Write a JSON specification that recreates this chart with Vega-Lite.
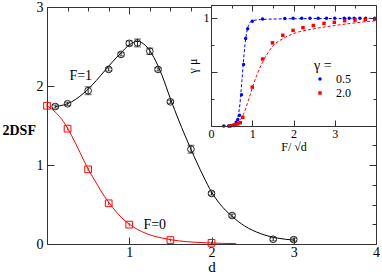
{
  "$schema": "https://vega.github.io/schema/vega-lite/v6.json",
  "autosize": {"type": "pad"},
  "padding": {"left": 2, "top": 0, "right": 0, "bottom": 0},
  "background": "white",
  "config": {
    "font": "Liberation Serif",
    "view": {"stroke": null},
    "axis": {"grid": false, "labelFont": "Liberation Serif", "titleFont": "Liberation Serif", "labelColor": "#000", "titleColor": "#000", "domainColor": "#333", "tickColor": "#333", "titleFontWeight": "normal", "labelOverlap": false, "labelFlush": false}
  },
  "datasets": {
    "fit1": [
      {"d": 0.1, "v": 1.74}, {"d": 0.2, "v": 1.76}, {"d": 0.3, "v": 1.8}, {"d": 0.4, "v": 1.87}, {"d": 0.5, "v": 1.96},
      {"d": 0.6, "v": 2.07}, {"d": 0.7, "v": 2.19}, {"d": 0.8, "v": 2.31}, {"d": 0.9, "v": 2.42}, {"d": 1.0, "v": 2.52},
      {"d": 1.1, "v": 2.565}, {"d": 1.2, "v": 2.51}, {"d": 1.3, "v": 2.36}, {"d": 1.4, "v": 2.13}, {"d": 1.5, "v": 1.84},
      {"d": 1.6, "v": 1.57}, {"d": 1.75, "v": 1.2}, {"d": 1.9, "v": 0.86}, {"d": 2.0, "v": 0.66}, {"d": 2.1, "v": 0.51},
      {"d": 2.25, "v": 0.35}, {"d": 2.4, "v": 0.23}, {"d": 2.6, "v": 0.13}, {"d": 2.8, "v": 0.075}, {"d": 3.0, "v": 0.05}
    ],
    "fit0": [
      {"d": 0, "v": 1.75}, {"d": 0.1, "v": 1.67}, {"d": 0.2, "v": 1.55}, {"d": 0.3, "v": 1.37}, {"d": 0.4, "v": 1.16},
      {"d": 0.5, "v": 0.95}, {"d": 0.6, "v": 0.77}, {"d": 0.7, "v": 0.6}, {"d": 0.8, "v": 0.46}, {"d": 0.9, "v": 0.34},
      {"d": 1.0, "v": 0.25}, {"d": 1.1, "v": 0.185}, {"d": 1.2, "v": 0.135}, {"d": 1.4, "v": 0.075}, {"d": 1.6, "v": 0.04},
      {"d": 1.8, "v": 0.022}, {"d": 2.0, "v": 0.012}, {"d": 2.3, "v": 0.005}
    ],
    "pts1": [
      {"d": 0.1, "v": 1.74, "lo": 1.72, "hi": 1.76},
      {"d": 0.25, "v": 1.775, "lo": 1.755, "hi": 1.795},
      {"d": 0.5, "v": 1.94, "lo": 1.89, "hi": 1.99},
      {"d": 0.75, "v": 2.21, "lo": 2.19, "hi": 2.23},
      {"d": 0.9, "v": 2.4, "lo": 2.38, "hi": 2.42},
      {"d": 1.0, "v": 2.54, "lo": 2.51, "hi": 2.57},
      {"d": 1.1, "v": 2.545, "lo": 2.495, "hi": 2.595},
      {"d": 1.25, "v": 2.44, "lo": 2.4, "hi": 2.48},
      {"d": 1.35, "v": 2.21, "lo": 2.19, "hi": 2.23},
      {"d": 1.5, "v": 1.8, "lo": 1.78, "hi": 1.82},
      {"d": 1.75, "v": 1.2, "lo": 1.15, "hi": 1.25},
      {"d": 2.0, "v": 0.64, "lo": 0.62, "hi": 0.66},
      {"d": 2.25, "v": 0.36, "lo": 0.34, "hi": 0.38},
      {"d": 2.75, "v": 0.06, "lo": 0.04, "hi": 0.08},
      {"d": 3.0, "v": 0.055, "lo": 0.035, "hi": 0.075}
    ],
    "pts0": [
      {"d": 0, "v": 1.75, "lo": 1.73, "hi": 1.77},
      {"d": 0.25, "v": 1.46, "lo": 1.44, "hi": 1.48},
      {"d": 0.5, "v": 0.945, "lo": 0.925, "hi": 0.965},
      {"d": 0.75, "v": 0.515, "lo": 0.495, "hi": 0.535},
      {"d": 1.0, "v": 0.245, "lo": 0.225, "hi": 0.265},
      {"d": 1.5, "v": 0.05, "lo": 0.03, "hi": 0.07},
      {"d": 2.0, "v": 0.015, "lo": 0.0, "hi": 0.03}
    ],
    "labels": [
      {"d": 0.41, "v": 2.13, "t": "F=1"},
      {"d": 1.31, "v": 0.24, "t": "F=0"}
    ],
    "fitB": [
      {"F": 0.28, "v": 0}, {"F": 0.45, "v": 0.003}, {"F": 0.55, "v": 0.015}, {"F": 0.6, "v": 0.035}, {"F": 0.65, "v": 0.08},
      {"F": 0.7, "v": 0.2}, {"F": 0.75, "v": 0.42}, {"F": 0.8, "v": 0.66}, {"F": 0.85, "v": 0.83}, {"F": 0.9, "v": 0.92},
      {"F": 0.95, "v": 0.96}, {"F": 1.0, "v": 0.975}, {"F": 1.2, "v": 0.985}, {"F": 1.5, "v": 0.99}, {"F": 2.0, "v": 0.993},
      {"F": 3.0, "v": 0.995}, {"F": 4.0, "v": 0.997}
    ],
    "fitR": [
      {"F": 0.4, "v": 0}, {"F": 0.5, "v": 0.005}, {"F": 0.6, "v": 0.02}, {"F": 0.7, "v": 0.05}, {"F": 0.8, "v": 0.12},
      {"F": 0.9, "v": 0.23}, {"F": 1.0, "v": 0.35}, {"F": 1.1, "v": 0.46}, {"F": 1.25, "v": 0.59}, {"F": 1.5, "v": 0.74},
      {"F": 1.75, "v": 0.81}, {"F": 2.0, "v": 0.855}, {"F": 2.5, "v": 0.9}, {"F": 3.0, "v": 0.93}, {"F": 3.5, "v": 0.955},
      {"F": 4.0, "v": 0.975}
    ],
    "ins": [
      {"F": 0.31, "v": 0, "g": "0.5"}, {"F": 0.43, "v": 0, "g": "0.5"}, {"F": 0.48, "v": 0.002, "g": "0.5"},
      {"F": 0.55, "v": 0.01, "g": "0.5"}, {"F": 0.61, "v": 0.035, "g": "0.5"}, {"F": 0.65, "v": 0.06, "g": "0.5"},
      {"F": 0.69, "v": 0.1, "g": "0.5"}, {"F": 0.74, "v": 0.29, "g": "0.5"}, {"F": 0.79, "v": 0.57, "g": "0.5"},
      {"F": 0.84, "v": 0.81, "g": "0.5"}, {"F": 0.89, "v": 0.9, "g": "0.5"}, {"F": 1.0, "v": 0.97, "g": "0.5"},
      {"F": 1.25, "v": 0.99, "g": "0.5"}, {"F": 1.79, "v": 0.995, "g": "0.5"}, {"F": 1.99, "v": 0.997, "g": "0.5"},
      {"F": 2.2, "v": 0.997, "g": "0.5"}, {"F": 2.4, "v": 0.998, "g": "0.5"}, {"F": 2.6, "v": 0.998, "g": "0.5"},
      {"F": 2.8, "v": 0.998, "g": "0.5"}, {"F": 3.0, "v": 0.998, "g": "0.5"}, {"F": 3.23, "v": 0.998, "g": "0.5"},
      {"F": 3.35, "v": 0.998, "g": "0.5"}, {"F": 3.47, "v": 0.998, "g": "0.5"}, {"F": 3.61, "v": 0.998, "g": "0.5"},
      {"F": 3.75, "v": 0.998, "g": "0.5"}, {"F": 3.97, "v": 0.998, "g": "0.5"},
      {"F": 0.45, "v": 0, "g": "2.0"}, {"F": 0.54, "v": 0.005, "g": "2.0"}, {"F": 0.6, "v": 0.01, "g": "2.0"},
      {"F": 0.65, "v": 0.02, "g": "2.0"}, {"F": 0.71, "v": 0.03, "g": "2.0"}, {"F": 0.77, "v": 0.08, "g": "2.0"},
      {"F": 1.0, "v": 0.36, "g": "2.0"}, {"F": 1.25, "v": 0.62, "g": "2.0"}, {"F": 1.49, "v": 0.77, "g": "2.0"},
      {"F": 1.74, "v": 0.84, "g": "2.0"}, {"F": 1.99, "v": 0.885, "g": "2.0"}, {"F": 2.23, "v": 0.91, "g": "2.0"},
      {"F": 2.48, "v": 0.93, "g": "2.0"}, {"F": 2.74, "v": 0.95, "g": "2.0"}, {"F": 2.99, "v": 0.96, "g": "2.0"},
      {"F": 3.24, "v": 0.975, "g": "2.0"}, {"F": 3.49, "v": 0.98, "g": "2.0"}, {"F": 3.74, "v": 0.985, "g": "2.0"},
      {"F": 3.97, "v": 0.99, "g": "2.0"}
    ]
  },
  "width": 329,
  "height": 237,
  "resolve": {"scale": {"x": "independent", "y": "independent"}, "axis": {"x": "independent", "y": "independent"}},
  "layer": [
    {
      "resolve": {"axis": {"x": "independent", "y": "independent"}},
      "layer": [
        {
          "data": {"name": "fit1"},
          "mark": {"type": "line", "color": "#000", "strokeWidth": 1, "interpolate": "monotone"},
          "encoding": {
            "x": {"field": "d", "type": "quantitative", "scale": {"domain": [0, 4], "nice": false},
              "axis": {"orient": "bottom", "values": [0,0.25,0.5,0.75,1,1.25,1.5,1.75,2,2.25,2.5,2.75,3,3.25,3.5,3.75,4],
                "format": "d",
                "labelExpr": "datum.value % 1 === 0 && datum.value > 0 ? datum.label : ''",
                "tickSize": {"condition": {"test": "datum.value % 1 === 0", "value": -7}, "value": -4},
                "labelPadding": 8, "labelFontSize": 14, "title": "d", "titleFontSize": 15, "titlePadding": 0}},
            "y": {"field": "v", "type": "quantitative", "scale": {"domain": [0, 3], "nice": false},
              "axis": {"orient": "left", "values": [0,0.25,0.5,0.75,1,1.25,1.5,1.75,2,2.25,2.5,2.75,3],
                "format": "d",
                "labelExpr": "datum.value % 1 === 0 ? datum.label : ''",
                "tickSize": {"condition": {"test": "datum.value % 1 === 0", "value": -7}, "value": -4},
                "labelPadding": 11, "labelFontSize": 14,
                "title": "2DSF", "titleAngle": 0, "titleFontWeight": "bold", "titleFontSize": 14,
                "titleAlign": "left", "titleBaseline": "middle", "titleX": -45, "titleY": 123}}
          }
        },
        {
          "data": {"name": "fit0"},
          "mark": {"type": "line", "color": "#ff0000", "strokeWidth": 1, "interpolate": "monotone"},
          "encoding": {
            "x": {"field": "d", "type": "quantitative",
              "axis": {"orient": "top", "values": [0,0.25,0.5,0.75,1,1.25,1.5,1.75,2,2.25,2.5,2.75,3,3.25,3.5,3.75,4],
                "labels": false, "title": null,
                "tickSize": {"condition": {"test": "datum.value % 1 === 0", "value": -7}, "value": -4}}},
            "y": {"field": "v", "type": "quantitative",
              "axis": {"orient": "right", "values": [0,0.25,0.5,0.75,1,1.25,1.5,1.75,2,2.25,2.5,2.75,3],
                "labels": false, "title": null,
                "tickSize": {"condition": {"test": "datum.value % 1 === 0", "value": -7}, "value": -4}}}
          }
        },
        {
          "data": {"name": "pts1"},
          "mark": {"type": "rule", "color": "#222", "strokeWidth": 1},
          "encoding": {
            "x": {"field": "d", "type": "quantitative", "axis": null},
            "y": {"field": "lo", "type": "quantitative", "axis": null},
            "y2": {"field": "hi"}
          }
        },
        {
          "data": {"name": "pts1"},
          "mark": {"type": "tick", "orient": "horizontal", "color": "#222", "size": 7, "thickness": 1},
          "encoding": {
            "x": {"field": "d", "type": "quantitative", "axis": null},
            "y": {"field": "lo", "type": "quantitative", "axis": null}
          }
        },
        {
          "data": {"name": "pts1"},
          "mark": {"type": "tick", "orient": "horizontal", "color": "#222", "size": 7, "thickness": 1},
          "encoding": {
            "x": {"field": "d", "type": "quantitative", "axis": null},
            "y": {"field": "hi", "type": "quantitative", "axis": null}
          }
        },
        {
          "data": {"name": "pts1"},
          "mark": {"type": "point", "shape": "circle", "filled": false, "color": "#222", "size": 45, "strokeWidth": 1, "opacity": 1},
          "encoding": {
            "x": {"field": "d", "type": "quantitative", "axis": null},
            "y": {"field": "v", "type": "quantitative", "axis": null}
          }
        },
        {
          "data": {"name": "pts0"},
          "mark": {"type": "rule", "color": "#ff0000", "strokeWidth": 1},
          "encoding": {
            "x": {"field": "d", "type": "quantitative", "axis": null},
            "y": {"field": "lo", "type": "quantitative", "axis": null},
            "y2": {"field": "hi"}
          }
        },
        {
          "data": {"name": "pts0"},
          "mark": {"type": "point", "shape": "square", "filled": false, "color": "#ff0000", "size": 45, "strokeWidth": 1, "opacity": 1},
          "encoding": {
            "x": {"field": "d", "type": "quantitative", "axis": null},
            "y": {"field": "v", "type": "quantitative", "axis": null}
          }
        },
        {
          "data": {"name": "labels"},
          "mark": {"type": "text", "font": "Liberation Serif", "fontSize": 14, "color": "#000"},
          "encoding": {
            "x": {"field": "d", "type": "quantitative", "axis": null},
            "y": {"field": "v", "type": "quantitative", "axis": null},
            "text": {"field": "t"}
          }
        }
      ]
    },
    {
      "resolve": {"axis": {"x": "independent", "y": "independent"}},
      "layer": [
        {
          "data": {"values": [{}]},
          "mark": {"type": "rect", "color": "white", "opacity": 1},
          "encoding": {
            "x": {"datum": 0, "type": "quantitative", "scale": {"domain": [0, 4], "range": [164, 329], "nice": false}, "axis": null},
            "x2": {"datum": 4},
            "y": {"datum": 0, "type": "quantitative", "scale": {"domain": [0, 1.12], "range": [119, -2], "nice": false}, "axis": null},
            "y2": {"datum": 1.12}
          }
        },
        {
          "data": {"name": "fitB"},
          "mark": {"type": "line", "color": "#0000ff", "strokeWidth": 1, "strokeDash": [3, 2], "interpolate": "monotone"},
          "encoding": {
            "x": {"field": "F", "type": "quantitative",
              "axis": {"orient": "bottom", "offset": -118, "zindex": 1, "values": [0,0.5,1,1.5,2,2.5,3,3.5,4],
                "format": "d",
                "labelExpr": "datum.value % 1 === 0 && datum.value < 4 ? datum.label : ''",
                "tickSize": {"condition": {"test": "datum.value % 1 === 0", "value": -6}, "value": -3},
                "labelPadding": 8, "labelFontSize": 12, "title": "F/ √d", "titleFontSize": 12, "titlePadding": 2}},
            "y": {"field": "v", "type": "quantitative",
              "axis": {"orient": "left", "offset": -164, "zindex": 1, "values": [0,0.25,0.5,0.75,1],
                "labelExpr": "datum.value === 1 ? '1' : ''",
                "tickSize": {"condition": {"test": "datum.value % 0.5 === 0", "value": -6}, "value": -3},
                "labelPadding": 8, "labelFontSize": 12, "title": "γ μ", "titleFontSize": 12, "titlePadding": 4}}
          }
        },
        {
          "data": {"name": "fitR"},
          "mark": {"type": "line", "color": "#ff0000", "strokeWidth": 1, "strokeDash": [3, 2], "interpolate": "monotone"},
          "encoding": {
            "x": {"field": "F", "type": "quantitative",
              "axis": {"orient": "top", "offset": 2, "zindex": 1, "values": [0,0.5,1,1.5,2,2.5,3,3.5,4], "labels": false, "title": null,
                "tickSize": {"condition": {"test": "datum.value % 1 === 0", "value": -6}, "value": -3}}},
            "y": {"field": "v", "type": "quantitative",
              "axis": {"orient": "right", "zindex": 1, "values": [0,0.25,0.5,0.75,1], "labels": false, "title": null,
                "tickSize": {"condition": {"test": "datum.value % 0.5 === 0", "value": -6}, "value": -3}}}
          }
        },
        {
          "data": {"name": "ins"},
          "mark": {"type": "point", "filled": true, "size": 12, "opacity": 1},
          "encoding": {
            "x": {"field": "F", "type": "quantitative", "axis": null},
            "y": {"field": "v", "type": "quantitative", "axis": null},
            "color": {"field": "g", "type": "nominal", "scale": {"domain": ["0.5", "2.0"], "range": ["#0000ff", "#ff0000"]},
              "legend": {"title": "γ =", "orient": "none", "legendX": 267, "legendY": 52, "titleFont": "Liberation Serif", "titleFontSize": 14, "titleFontWeight": "normal", "titleColor": "#000", "labelFont": "Liberation Serif", "labelFontSize": 12, "labelColor": "#000", "symbolSize": 12, "rowPadding": 2, "titlePadding": 0, "labelOffset": 10}},
            "shape": {"field": "g", "type": "nominal", "scale": {"domain": ["0.5", "2.0"], "range": ["circle", "square"]},
              "legend": {"title": "γ =", "orient": "none", "legendX": 267, "legendY": 52, "titleFont": "Liberation Serif", "titleFontSize": 14, "titleFontWeight": "normal", "titleColor": "#000", "labelFont": "Liberation Serif", "labelFontSize": 12, "labelColor": "#000", "symbolSize": 12, "rowPadding": 2, "titlePadding": 0, "labelOffset": 10}}
          }
        }
      ]
    }
  ]
}
